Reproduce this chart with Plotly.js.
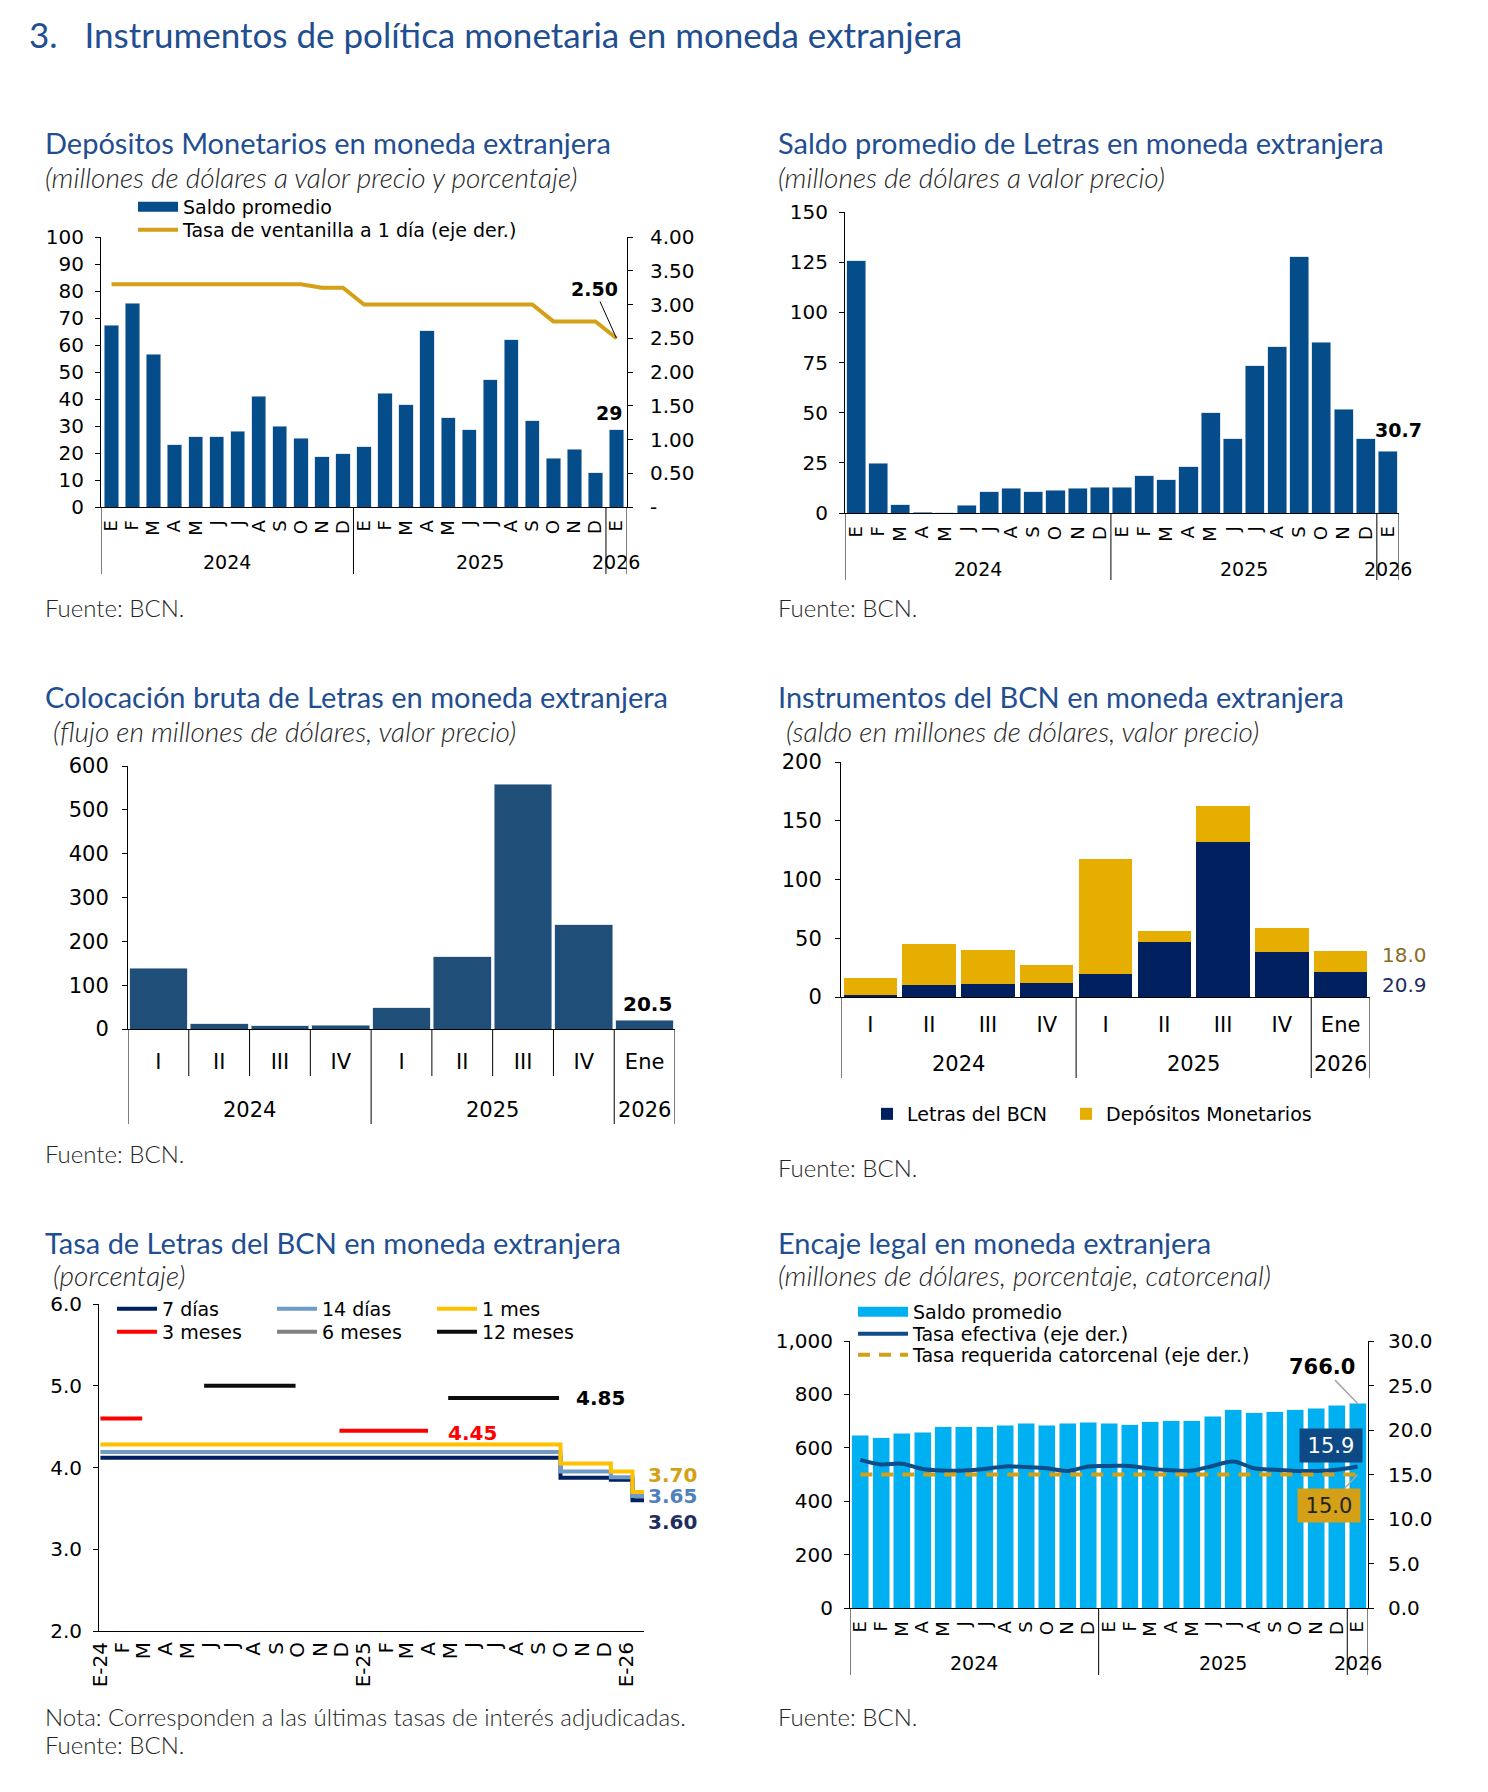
<!DOCTYPE html>
<html><head><meta charset="utf-8">
<script src="https://cdn.plot.ly/plotly-3.0.1.min.js"></script>
<style>html,body{margin:0;padding:0;background:#fff}#chart{width:1488px;height:1792px}</style>
</head><body><div id="chart"></div>
<script>
// ---------------- DATA ----------------
const mesesLetras = ['E','F','M','A','M','J','J','A','S','O','N','D','E','F','M','A','M','J','J','A','S','O','N','D','E'];
const aniosMes = ['2024','2025','2026'];
const mesesPorAnio = [12,12,1];

// Panel 1: Depósitos Monetarios en moneda extranjera
const depSaldo = [67.4,75.5,56.5,23.0,26.0,26.0,28.0,41.1,30.0,25.4,18.7,19.7,22.4,42.2,37.9,65.3,33.0,28.7,47.2,61.9,32.0,18.1,21.4,12.6,28.7];
const tasaVentanilla = [3.30,3.30,3.30,3.30,3.30,3.30,3.30,3.30,3.30,3.30,3.25,3.25,3.00,3.00,3.00,3.00,3.00,3.00,3.00,3.00,3.00,2.75,2.75,2.75,2.50];
const tasaDerTicks = [0,0.5,1,1.5,2,2.5,3,3.5,4];

// Panel 2: Saldo promedio de Letras
const letrasSaldo = [125.7,24.9,4.2,0.3,0.1,3.8,10.6,12.3,10.6,11.3,12.3,12.8,12.8,18.6,16.5,23.1,49.9,37.1,73.3,82.8,127.6,85.1,51.6,37.1,30.7];

// Panel 3 y 4
const trimestres = ['I','II','III','IV','I','II','III','IV','Ene'];
const aniosTrim = ['2024','2025','2026'];
const trimPorAnio = [4,4,1];
const colocacion = [138.6,12.2,6.9,9.1,48.0,165.2,558.0,238.3,20.5];
const instLetras = [1.5,10.2,10.8,11.7,19.8,46.5,131.6,38.7,20.9];
const instDepositos = [14.7,34.8,28.8,15.9,97.4,9.9,31.2,19.8,18.0];

// Panel 5: Tasa de Letras
const mesesTasa = ['E-24','F','M','A','M','J','J','A','S','O','N','D','E-25','F','M','A','M','J','J','A','S','O','N','D','E-26'];
const fechasTicks = ['2024-01-01','2024-02-01','2024-03-01','2024-04-01','2024-05-01','2024-06-01','2024-07-01','2024-08-01','2024-09-01','2024-10-01','2024-11-01','2024-12-01','2025-01-01','2025-02-01','2025-03-01','2025-04-01','2025-05-01','2025-06-01','2025-07-01','2025-08-01','2025-09-01','2025-10-01','2025-11-01','2025-12-01','2026-01-01'];
const cortoFechas = ['2024-01-01','2025-10-01','2025-12-10','2026-01-09','2026-01-25'];
const t7Valores  = [4.12,3.875,3.85,3.60,3.60];
const t14Valores = [4.19,3.95,3.88,3.65,3.65];
const t1mValores = [4.28,4.05,3.95,3.70,3.70];
const t3mFechas  = ['2024-01-01','2024-02-28','2024-06-01','2024-11-28','2025-03-31'];
const t3mValores = [4.60,4.60,null,4.45,4.45];
const t6mFechas  = [];
const t6mValores = [];
const t12mFechas  = ['2024-05-24','2024-09-28','2025-01-01','2025-04-28','2025-09-29'];
const t12mValores = [5.00,5.00,null,4.85,4.85];

// Panel 6: Encaje legal
const encajeSaldo = [646.8,638.0,654.0,658.0,678.0,678.0,678.0,685.0,692.0,685.0,692.0,695.0,692.0,686.5,698.0,702.0,702.0,718.0,742.0,732.0,735.0,742.0,749.0,759.0,766.0];
const tasaEfectiva = [16.64,16.13,16.21,15.62,15.45,15.45,15.62,15.91,15.83,15.70,15.40,15.91,15.96,15.96,15.66,15.49,15.45,15.96,16.47,15.70,15.53,15.40,15.40,15.53,15.9];
const tasaRequerida = [15,15,15,15,15,15,15,15,15,15,15,15,15,15,15,15,15,15,15,15,15,15,15,15,15];

// ---------------- HELPERS ----------------
const W=1488,H=1792;
const px=v=>v/W, py=v=>1-v/H;
const TF='DejaVu Sans, Verdana, sans-serif';
const HF='Lato, "Open Sans", sans-serif';
const TITLE_C='#1f4e91', TXT_C='#262626';
const idxM = mesesLetras.map((_,i)=>i);
const idxT = trimestres.map((_,i)=>i);

function bounds(counts){const b=[-0.5];counts.forEach(c=>b.push(b[b.length-1]+c));return b;}
function yearAnns(xref, years, counts, yPix, size){
  let s=-0.5;
  return years.map((yr,i)=>{const c=s+counts[i]/2; s+=counts[i];
    return {xref, yref:'paper', x:c, y:py(yPix), text:yr, showarrow:false, yanchor:'middle', font:{family:TF,size,color:'#000'}};});
}
function divs(xref, bs, y0, y1){
  return bs.map(b=>({type:'line', xref, yref:'paper', x0:b, x1:b, y0:py(y0), y1:py(y1), line:{color:'#000', width:1}}));
}
function txt(x,y,text,size,opt){
  return Object.assign({xref:'paper', yref:'paper', x:px(x), y:py(y), text, showarrow:false, xanchor:'left', yanchor:'middle',
    font:Object.assign({family:HF,size,color:TXT_C}, (opt&&opt.font)||{})}, opt&&opt.extra||{});
}
function title(x,y,t){return txt(x,y,t,29,{font:{color:TITLE_C}});}
function sub(x,y,t){return txt(x,y,t,28,{font:{style:'italic',weight:300,color:TXT_C}});}
function fuente(x,y,t){return txt(x,y,t,24,{font:{weight:300,color:TXT_C}});}

function yAx(o){return Object.assign({showgrid:false, zeroline:false, showline:true, linecolor:'#000', linewidth:1, ticks:'outside', ticklen:5, tickcolor:'#000', ticklabelstandoff:7, tickfont:{family:TF,size:20,color:'#000'}, fixedrange:true}, o);}
function xAx(o){return Object.assign({showgrid:false, zeroline:false, showline:true, linecolor:'#000', linewidth:1, ticks:'', tickfont:{family:TF,size:18,color:'#000'}, fixedrange:true}, o);}

// ---------------- TRACES ----------------
const BLUE='#054c8a', GOLD='#d4a017';
const traces = [
  // Panel 1
  {type:'scatter', x:[null], y:[null], xaxis:'x', yaxis:'y', mode:'lines', line:{color:BLUE,width:11}, name:'Saldo promedio', legend:'legend', hoverinfo:'skip'},
  {type:'bar', x:idxM, y:depSaldo, xaxis:'x', yaxis:'y', marker:{color:BLUE, line:{color:'#c9d4e2', width:0.6}}, width:0.68, showlegend:false},
  {type:'scatter', x:idxM, y:tasaVentanilla, xaxis:'x', yaxis:'y2', mode:'lines', line:{color:GOLD,width:4}, name:'Tasa de ventanilla a 1 día (eje der.)', legend:'legend6'},
  // Panel 2
  {type:'bar', x:idxM, y:letrasSaldo, xaxis:'x2', yaxis:'y3', marker:{color:BLUE, line:{color:'#c9d4e2', width:0.6}}, width:0.86, showlegend:false},
  // Panel 3
  {type:'bar', x:idxT, y:colocacion, xaxis:'x3', yaxis:'y4', marker:{color:'#1f4e79', line:{color:'#c9d4e2', width:0.6}}, width:0.95, showlegend:false},
  // Panel 4
  {type:'bar', x:idxT, y:instLetras, xaxis:'x4', yaxis:'y5', marker:{color:'#002060'}, width:0.91, name:'Letras del BCN', legend:'legend2'},
  {type:'bar', x:idxT, y:instDepositos, xaxis:'x4', yaxis:'y5', marker:{color:'#e5ae00'}, width:0.91, name:'Depósitos Monetarios', legend:'legend9'},
  // Panel 5
  {type:'scatter', x:cortoFechas, y:t7Valores, xaxis:'x5', yaxis:'y6', mode:'lines', line:{color:'#002060',width:4,shape:'hv'}, name:'7 días', legend:'legend3'},
  {type:'scatter', x:cortoFechas, y:t14Valores, xaxis:'x5', yaxis:'y6', mode:'lines', line:{color:'#6f9bc6',width:4,shape:'hv'}, name:'14 días', legend:'legend3'},
  {type:'scatter', x:cortoFechas, y:t1mValores, xaxis:'x5', yaxis:'y6', mode:'lines', line:{color:'#ffc000',width:4,shape:'hv'}, name:'1 mes', legend:'legend3'},
  {type:'scatter', x:t3mFechas, y:t3mValores, xaxis:'x5', yaxis:'y6', mode:'lines', connectgaps:false, line:{color:'#ff0000',width:4}, name:'3 meses', legend:'legend4'},
  {type:'scatter', x:t6mFechas.length?t6mFechas:[null], y:t6mValores.length?t6mValores:[null], xaxis:'x5', yaxis:'y6', mode:'lines', line:{color:'#808080',width:4}, name:'6 meses', legend:'legend4'},
  {type:'scatter', x:t12mFechas, y:t12mValores, xaxis:'x5', yaxis:'y6', mode:'lines', connectgaps:false, line:{color:'#0d0d0d',width:4}, name:'12 meses', legend:'legend4'},
  // Panel 6
  {type:'scatter', x:[null], y:[null], xaxis:'x6', yaxis:'y7', mode:'lines', line:{color:'#00b0f0',width:14}, name:'Saldo promedio', legend:'legend5', hoverinfo:'skip'},
  {type:'bar', x:idxM, y:encajeSaldo, xaxis:'x6', yaxis:'y7', marker:{color:'#00b0f0', line:{color:'#d7f0fb', width:0.6}}, width:0.82, showlegend:false},
  {type:'scatter', x:idxM, y:tasaEfectiva, xaxis:'x6', yaxis:'y8', mode:'lines', line:{color:'#0f4c8a',width:4,shape:'spline',smoothing:1}, name:'Tasa efectiva (eje der.)', legend:'legend7'},
  {type:'scatter', x:idxM, y:tasaRequerida, xaxis:'x6', yaxis:'y8', mode:'lines', line:{color:GOLD,width:4,dash:'12px,9px'}, name:'Tasa requerida catorcenal (eje der.)', legend:'legend8'}
];

// ---------------- LAYOUT ----------------
const bM = bounds(mesesPorAnio), bT = bounds(trimPorAnio);
const shortT = idxT.slice(0,-1).map(i=>i+0.5).filter(b=>!bT.includes(b));

const legBase = {bgcolor:'rgba(0,0,0,0)', font:{family:TF,size:19,color:'#000'}, tracegroupgap:0, traceorder:'normal', xanchor:'left', yanchor:'middle'};
function leg(x,y,o){return Object.assign({}, legBase, {x:px(x), y:py(y), orientation:'v'}, o||{});}

const layout = {
  width:W, height:H, margin:{l:0,r:0,t:0,b:0}, paper_bgcolor:'#fff', plot_bgcolor:'rgba(0,0,0,0)',
  barmode:'stack', hovermode:false, showlegend:true,
  // Panel 1
  xaxis: xAx({domain:[px(101),px(627)], anchor:'y', range:[-0.5,24.5], tickmode:'array', tickvals:idxM, ticktext:mesesLetras, tickangle:-90, ticklabelstandoff:5}),
  yaxis: yAx({domain:[py(507),py(237)], anchor:'x', range:[0,100], dtick:10}),
  yaxis2: yAx({overlaying:'y', side:'right', anchor:'x', range:[0,4], tickmode:'array', tickvals:tasaDerTicks, ticktext:tasaDerTicks.map(v=>v===0?'-':v.toFixed(2)), ticklabelstandoff:13}),
  // Panel 2
  xaxis2: xAx({domain:[px(845),px(1399)], anchor:'y3', range:[-0.5,24.5], tickmode:'array', tickvals:idxM, ticktext:mesesLetras, tickangle:-90, ticklabelstandoff:5}),
  yaxis3: yAx({domain:[py(513),py(212)], anchor:'x2', range:[0,150], dtick:25}),
  // Panel 3
  xaxis3: xAx({domain:[px(128),px(675)], anchor:'y4', range:[-0.5,8.5], tickmode:'array', tickvals:idxT, ticktext:trimestres, tickfont:{family:TF,size:21,color:'#000'}, ticklabelstandoff:14}),
  yaxis4: yAx({domain:[py(1029),py(766)], anchor:'x3', range:[0,600], dtick:100, tickfont:{family:TF,size:21,color:'#000'}, ticklabelstandoff:9}),
  // Panel 4
  xaxis4: xAx({domain:[px(841),px(1370)], anchor:'y5', range:[-0.5,8.5], tickmode:'array', tickvals:idxT, ticktext:trimestres, tickfont:{family:TF,size:21,color:'#000'}, ticklabelstandoff:9}),
  yaxis5: yAx({domain:[py(997),py(762)], anchor:'x4', range:[0,200], dtick:50, tickfont:{family:TF,size:21,color:'#000'}, ticklabelstandoff:9}),
  // Panel 5
  xaxis5: xAx({type:'date', domain:[px(99),px(644)], anchor:'y6', range:['2023-12-30','2026-01-25'], tickmode:'array', tickvals:fechasTicks, ticktext:mesesTasa, tickangle:-90, ticklabelstandoff:2, tickfont:{family:TF,size:20,color:'#000'}}),
  yaxis6: yAx({domain:[py(1631),py(1304)], anchor:'x5', range:[2,6], dtick:1, tickformat:'.1f'}),
  // Panel 6
  xaxis6: xAx({domain:[px(850),px(1368)], anchor:'y7', range:[-0.5,24.5], tickmode:'array', tickvals:idxM, ticktext:mesesLetras, tickangle:-90, ticklabelstandoff:5}),
  yaxis7: yAx({domain:[py(1608),py(1341)], anchor:'x6', range:[0,1000], dtick:200, tickformat:',d'}),
  yaxis8: yAx({overlaying:'y7', side:'right', anchor:'x6', range:[0,30], dtick:5, tickformat:'.1f', ticklabelstandoff:10}),
  // Legends
  legend:  leg(133,207,{itemwidth:40}),
  legend6: leg(133,230,{itemwidth:40}),
  legend2: leg(867,1114),
  legend9: leg(1066,1114),
  legend3: leg(112,1309,{orientation:'h', entrywidth:105, itemwidth:40}),
  legend4: leg(112,1332,{orientation:'h', entrywidth:105, itemwidth:40}),
  legend5: leg(853,1312,{itemwidth:50}),
  legend7: leg(853,1334,{itemwidth:50}),
  legend8: leg(853,1355,{itemwidth:50}),
  shapes: [].concat(
    divs('x', bM, 507, 574),
    divs('x2', bM, 513, 580),
    divs('x3', bT, 1029, 1124),
    divs('x3', shortT, 1029, 1076),
    divs('x4', bT, 997, 1078),
    divs('x6', bM, 1608, 1675)
  ),
  annotations: [].concat(
    [txt(27,34,'3.\u00a0\u00a0\u00a0Instrumentos de política monetaria en moneda extranjera',35,{font:{color:TITLE_C}}),
     title(43,143,'Depósitos Monetarios en moneda extranjera'),
     sub(43,177,'(millones de dólares a valor precio y porcentaje)'),
     fuente(43,607,'Fuente: BCN.'),
     title(776,143,'Saldo promedio de Letras en moneda extranjera'),
     sub(776,177,'(millones de dólares a valor precio)'),
     fuente(776,607,'Fuente: BCN.'),
     title(43,696,'Colocación bruta de Letras en moneda extranjera'),
     sub(51,731,'(flujo en millones de dólares, valor precio)'),
     fuente(43,1153,'Fuente: BCN.'),
     title(776,696,'Instrumentos del BCN en moneda extranjera'),
     sub(784,731,'(saldo en millones de dólares, valor precio)'),
     fuente(776,1167,'Fuente: BCN.'),
     title(43,1242,'Tasa de Letras del BCN en moneda extranjera'),
     sub(51,1275,'(porcentaje)'),
     fuente(43,1716,'Nota: Corresponden a las últimas tasas de interés adjudicadas.'),
     fuente(43,1744,'Fuente: BCN.'),
     title(776,1242,'Encaje legal en moneda extranjera'),
     sub(776,1275,'(millones de dólares, porcentaje, catorcenal)'),
     fuente(776,1716,'Fuente: BCN.')
    ],
    yearAnns('x', aniosMes, mesesPorAnio, 562, 19),
    yearAnns('x2', aniosMes, mesesPorAnio, 569, 19),
    yearAnns('x3', aniosTrim, trimPorAnio, 1110, 21),
    yearAnns('x4', aniosTrim, trimPorAnio, 1064, 21),
    yearAnns('x6', aniosMes, mesesPorAnio, 1663, 19),
    [
     // Panel 1 labels
     {xref:'x', yref:'y', x:24, y:depSaldo[24], text:'<b>'+Math.round(depSaldo[24])+'</b>', showarrow:false, yanchor:'bottom', yshift:4, xshift:-7, font:{family:TF,size:19,color:'#000'}},
     {xref:'x', yref:'y2', x:24, y:tasaVentanilla[24], axref:'x', ayref:'y2', ax:22.95, ay:3.23, text:'<b>'+tasaVentanilla[24].toFixed(2)+'</b>', showarrow:true, arrowhead:0, arrowwidth:1, arrowcolor:'#000', font:{family:TF,size:19,color:'#000'}},
     // Panel 2
     {xref:'x2', yref:'y3', x:24-0.43, y:letrasSaldo[24], text:'<b>'+letrasSaldo[24].toFixed(1)+'</b>', showarrow:false, xanchor:'left', yanchor:'bottom', yshift:8, xshift:-5, font:{family:TF,size:19,color:'#000'}},
     // Panel 3
     {xref:'x3', yref:'y4', x:8, y:colocacion[8], text:'<b>'+colocacion[8].toFixed(1)+'</b>', showarrow:false, yanchor:'bottom', yshift:2, xshift:3, font:{family:TF,size:20,color:'#000'}},
     // Panel 4
     {xref:'x4', yref:'y5', x:8.5, y:instLetras[8]+instDepositos[8], text:instDepositos[8].toFixed(1), showarrow:false, xanchor:'left', yanchor:'middle', xshift:10, yshift:-4, font:{family:TF,size:20,color:'#8c6d1f'}},
     {xref:'x4', yref:'y5', x:8.5, y:instLetras[8]/2, text:instLetras[8].toFixed(1), showarrow:false, xanchor:'left', yanchor:'middle', xshift:10, font:{family:TF,size:20,color:'#1f2d5f'}},
     // Panel 5
     {xref:'x5', yref:'y6', x:t12mFechas[4], y:t12mValores[4], text:'<b>'+t12mValores[4].toFixed(2)+'</b>', showarrow:false, xanchor:'left', xshift:15, font:{family:TF,size:20,color:'#000'}},
     {xref:'x5', yref:'y6', x:t3mFechas[4], y:t3mValores[4], text:'<b>'+t3mValores[4].toFixed(2)+'</b>', showarrow:false, xanchor:'left', xshift:18, yshift:-2, font:{family:TF,size:20,color:'#ff0000'}},
     {xref:'x5', yref:'y6', x:cortoFechas[4], y:t1mValores[4], text:'<b>'+t1mValores[4].toFixed(2)+'</b>', showarrow:false, xanchor:'left', xshift:2, yshift:17, font:{family:TF,size:20,color:'#d4a017'}},
     {xref:'x5', yref:'y6', x:cortoFechas[4], y:t14Valores[4], text:'<b>'+t14Valores[4].toFixed(2)+'</b>', showarrow:false, xanchor:'left', xshift:2, yshift:0, font:{family:TF,size:20,color:'#4f81bd'}},
     {xref:'x5', yref:'y6', x:cortoFechas[4], y:t7Valores[4], text:'<b>'+t7Valores[4].toFixed(2)+'</b>', showarrow:false, xanchor:'left', xshift:2, yshift:-22, font:{family:TF,size:20,color:'#1f2d5f'}},
     // Panel 6
     {xref:'x6', yref:'y7', x:24, y:encajeSaldo[24], axref:'x6', ayref:'y7', ax:22.28, ay:904, text:'<b>'+encajeSaldo[24].toFixed(1)+'</b>', showarrow:true, arrowhead:0, arrowwidth:1.5, arrowcolor:'#a6a6a6', font:{family:TF,size:21,color:'#000'}},
     {xref:'x6', yref:'y8', x:22.71, y:18.3, text:tasaEfectiva[24].toFixed(1), showarrow:false, bgcolor:'#0d4a85', width:60, height:31, font:{family:TF,size:21,color:'#fff'}},
     {xref:'x6', yref:'y8', x:24, y:tasaRequerida[24], axref:'x6', ayref:'y8', ax:22.6, ay:11.55, text:tasaRequerida[24].toFixed(1), showarrow:true, arrowhead:0, arrowwidth:1.5, arrowcolor:'#a6a6a6', bgcolor:'#d4a017', width:60, height:31, font:{family:TF,size:21,color:'#222'}}
    ]
  )
};

Plotly.newPlot('chart', traces, layout, {displayModeBar:false, staticPlot:true});
</script></body></html>
